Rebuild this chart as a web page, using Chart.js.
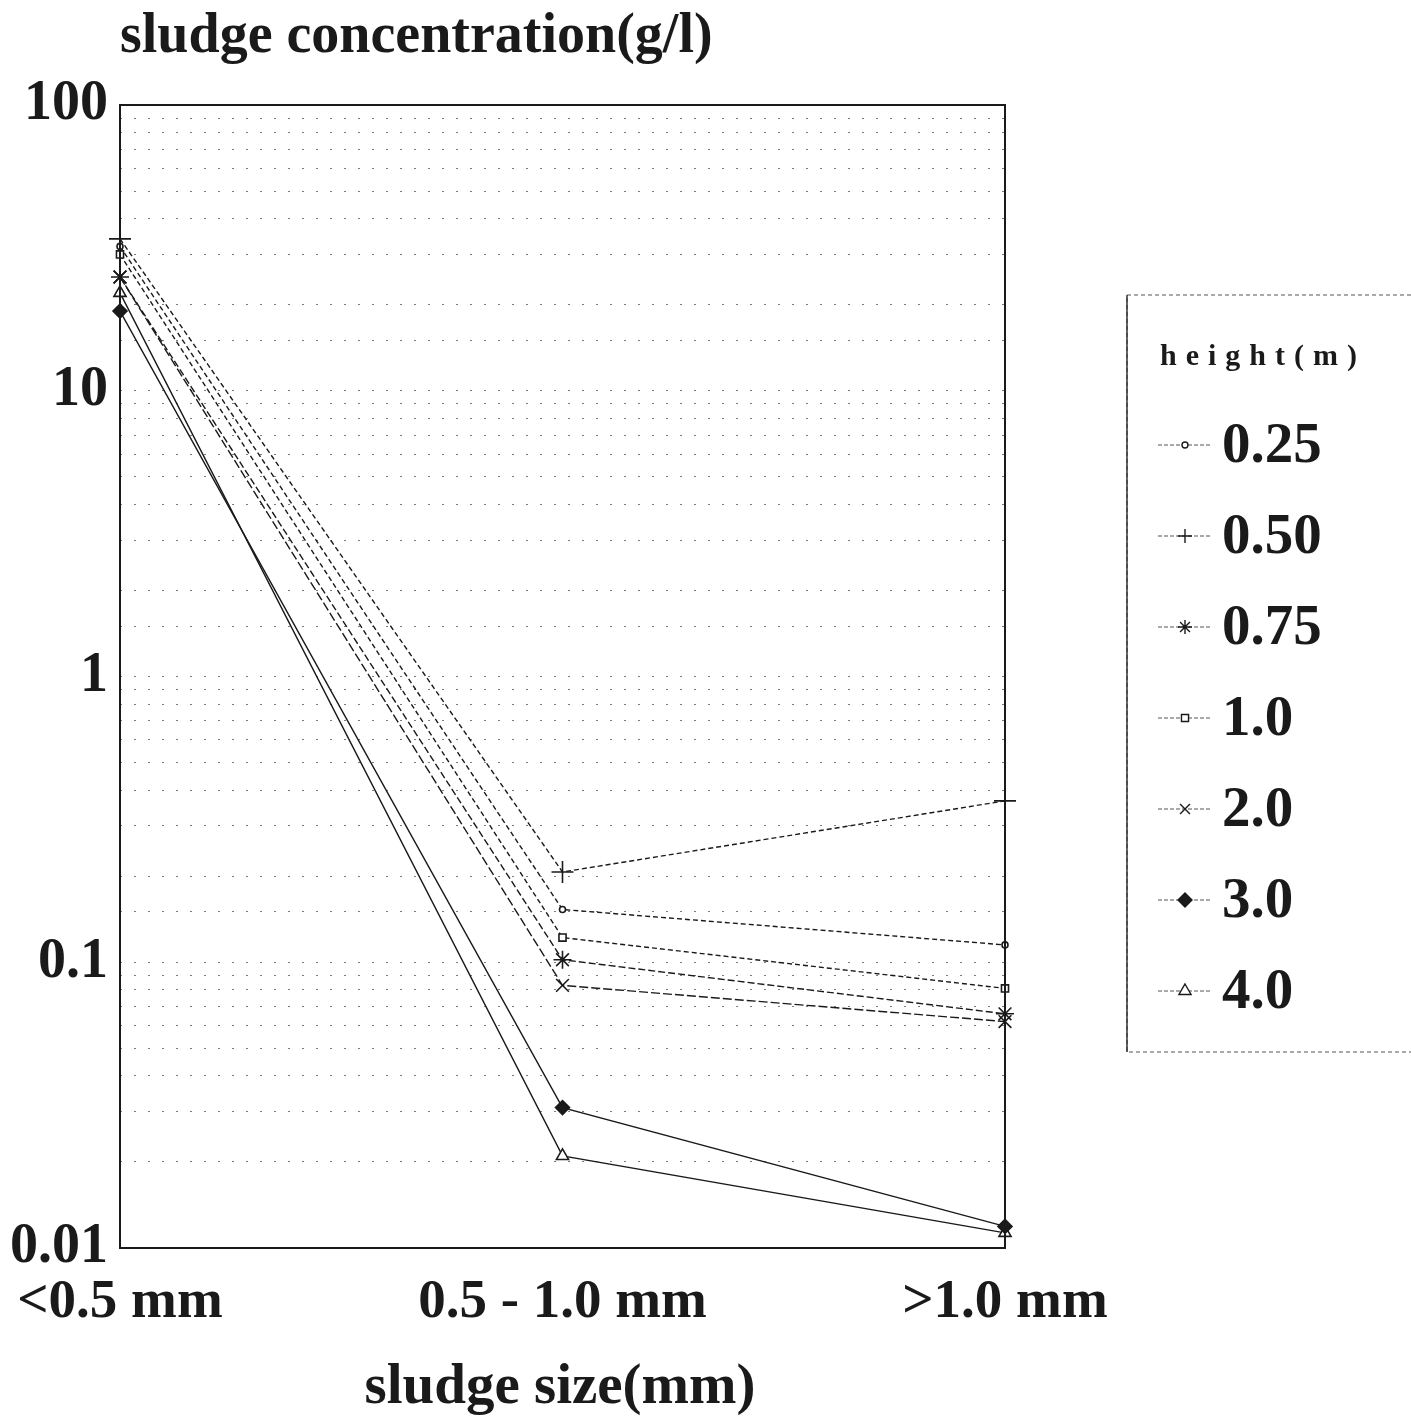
<!DOCTYPE html>
<html>
<head>
<meta charset="utf-8">
<script src="https://cdn.jsdelivr.net/npm/chart.js"></script>
<style>
  html, body { margin: 0; padding: 0; background: #fff; }
  #wrap { width: 1411px; height: 1416px; position: relative; }
</style>
</head>
<body>
<div id="wrap"><canvas id="sludgeChart" width="1411" height="1416"></canvas></div>
<script>
// categories and tick labels
const sizeLabels = ['<0.5 mm', '0.5 - 1.0 mm', '>1.0 mm'];
const yTickLabels = ['100', '10', '1', '0.1', '0.01'];
const heightLabels = ['0.25', '0.50', '0.75', '1.0', '2.0', '3.0', '4.0'];

// sludge concentration (g/l) per height
const h025 = [32, 0.153, 0.115];
const h050 = [34, 0.207, 0.367];
const h075 = [25, 0.102, 0.066];
const h100 = [30, 0.122, 0.081];
const h200 = [25, 0.083, 0.062];
const h300 = [19, 0.031, 0.0119];
const h400 = [22, 0.021, 0.0113];

const yTitle = 'sludge concentration(g/l)';
const xTitle = 'sludge size(mm)';

const ink = '#1a1a1a';
const styles = [
  { pointStyle: 'circle',   radius: 3, fill: '#fff', dash: [5, 3] },
  { pointStyle: 'cross',    radius: 11, fill: ink,   dash: [5, 3] },
  { pointStyle: 'star',     radius: 9, fill: ink,    dash: [7, 3] },
  { pointStyle: 'rect',     radius: 5, fill: '#fff', dash: [5, 3] },
  { pointStyle: 'crossRot', radius: 9, fill: ink,    dash: [9, 3] },
  { pointStyle: 'rectRot',  radius: 7, fill: ink,    dash: [] },
  { pointStyle: 'triangle', radius: 7, fill: '#fff', dash: [] }
];
const series = [h025, h050, h075, h100, h200, h300, h400];

const datasets = series.map((vals, i) => ({
  label: heightLabels[i],
  data: vals,
  borderColor: ink,
  borderWidth: 1.4,
  borderDash: styles[i].dash,
  pointStyle: styles[i].pointStyle,
  pointRadius: styles[i].radius,
  pointBackgroundColor: styles[i].fill,
  pointBorderColor: ink,
  pointBorderWidth: 1.6,
  tension: 0,
  fill: false
}));

function isDecade(v) {
  const l = Math.log10(v);
  return Math.abs(l - Math.round(l)) < 1e-6;
}

const decor = {
  id: 'decor',
  afterDraw(chart) {
    const { ctx, chartArea: a } = chart;
    ctx.save();
    ctx.setLineDash([]);
    ctx.strokeStyle = ink;
    ctx.lineWidth = 2;
    ctx.strokeRect(a.left, a.top, a.right - a.left, a.bottom - a.top);

    // axis titles
    ctx.fillStyle = ink;
    ctx.textBaseline = 'middle';
    ctx.textAlign = 'left';
    ctx.font = 'bold 56px "Liberation Serif"';
    ctx.fillText(yTitle, 120, 38);
    ctx.textAlign = 'center';
    ctx.font = 'bold 57px "Liberation Serif"';
    ctx.fillText(xTitle, 560, 1388);

    // legend box
    ctx.lineWidth = 1.2;
    ctx.strokeStyle = '#555';
    ctx.setLineDash([4, 3]);
    ctx.strokeRect(1127, 295, 300, 757);
    ctx.setLineDash([]);
    ctx.strokeStyle = '#333';
    ctx.lineWidth = 1.5;
    ctx.beginPath();
    ctx.moveTo(1127, 295);
    ctx.lineTo(1127, 1052);
    ctx.stroke();

    ctx.textAlign = 'left';
    ctx.font = 'bold 30px "Liberation Serif"';
    ctx.letterSpacing = '9px';
    ctx.fillText('height(m)', 1160, 357);
    ctx.letterSpacing = '0px';

    ctx.font = 'bold 57px "Liberation Serif"';
    heightLabels.forEach((lab, i) => {
      const y = 445 + i * 91;
      ctx.strokeStyle = '#555';
      ctx.lineWidth = 1;
      ctx.setLineDash([4, 2]);
      ctx.beginPath();
      ctx.moveTo(1158, y);
      ctx.lineTo(1212, y);
      ctx.stroke();
      ctx.setLineDash([]);
      ctx.strokeStyle = ink;
      ctx.fillStyle = styles[i].fill;
      ctx.lineWidth = 1.4;
      Chart.helpers.drawPoint(ctx, {
        pointStyle: styles[i].pointStyle,
        radius: Math.min(styles[i].radius, 7),
        rotation: 0,
        borderWidth: 1.4
      }, 1185, y);
      ctx.fillStyle = ink;
      ctx.fillText(lab, 1222, y + 2);
    });
    ctx.restore();
  }
};

new Chart(document.getElementById('sludgeChart'), {
  type: 'line',
  data: { labels: sizeLabels, datasets: datasets },
  options: {
    responsive: false,
    animation: false,
    layout: { padding: { left: 0, top: 105, right: 406, bottom: 0 } },
    plugins: { legend: { display: false }, tooltip: { enabled: false } },
    scales: {
      x: {
        type: 'category',
        offset: false,
        grid: { display: false, drawTicks: false },
        border: { display: false },
        ticks: {
          color: ink,
          padding: 22,
          maxRotation: 0,
          font: { family: 'Liberation Serif', size: 55, weight: 'bold' }
        },
        afterFit(scale) {
          scale.height = 168;
          scale.paddingLeft = 0;
          scale.paddingRight = 0;
        }
      },
      y: {
        type: 'logarithmic',
        min: 0.01,
        max: 100,
        grid: { color: '#7a7a7a', lineWidth: 1, drawTicks: false },
        border: { display: false, dash: [2, 12] },
        ticks: {
          autoSkip: false,
          color: ink,
          padding: 12,
          font: { family: 'Liberation Serif', size: 56, weight: 'bold' },
          callback(v) {
            if (!isDecade(v)) return '';
            const idx = 2 - Math.round(Math.log10(v));
            return yTickLabels[idx];
          }
        },
        afterFit(scale) {
          scale.width = 120;
          scale.paddingTop = 0;
          scale.paddingBottom = 0;
        }
      }
    }
  },
  plugins: [decor]
});
</script>
</body>
</html>
